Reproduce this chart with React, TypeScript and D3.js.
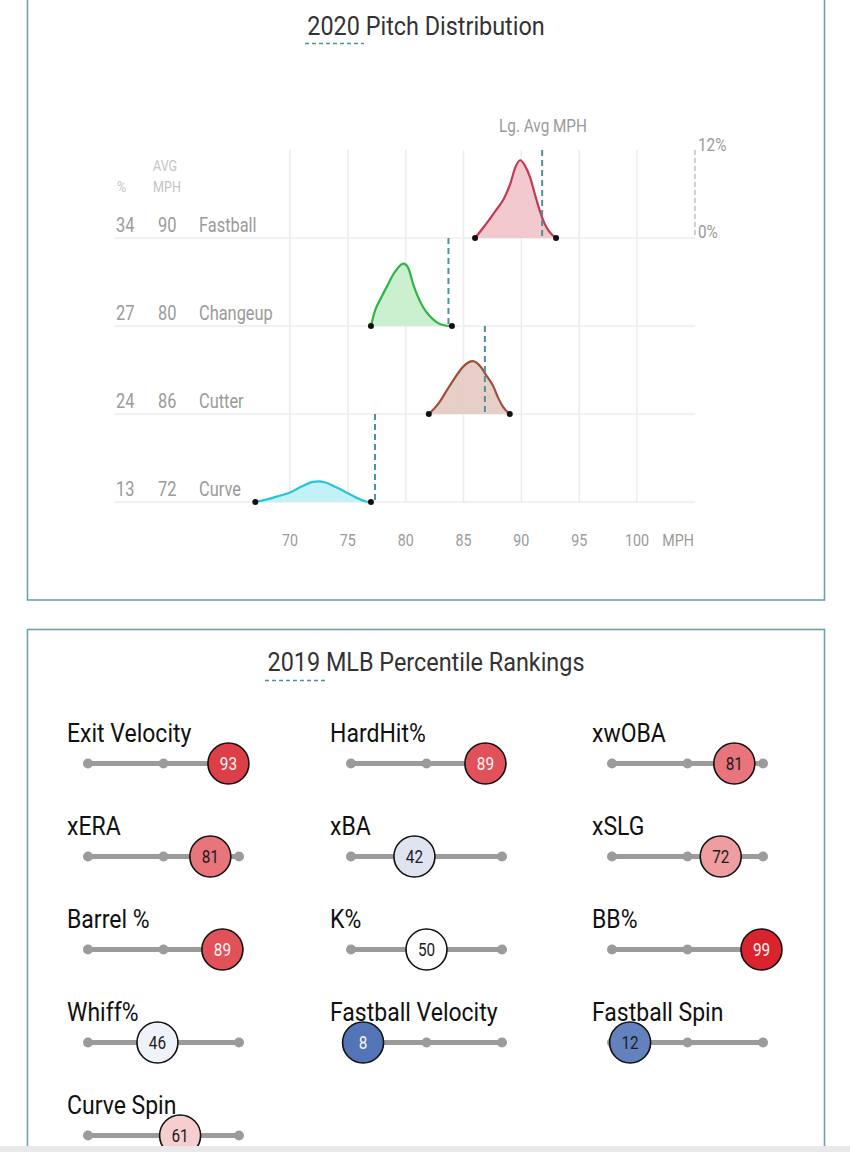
import React from 'react';
import * as d3 from 'd3';

// ---------- Pitch distribution data ----------
const pitchTypes = ['Fastball', 'Changeup', 'Cutter', 'Curve'];
const pitchUsage = [34, 27, 24, 13];
const pitchAvgMph = [90, 80, 86, 72];
const leagueAvgMph = [91.8, 83.7, 86.85, 77.35];
const mphTicks = [70, 75, 80, 85, 90, 95, 100];

const fastballDensity: [number, number][] = [
  [86, 0], [86.8, 1.6], [87.5, 3.1], [88, 4.2], [88.5, 5.4], [89, 7.2], [89.5, 9.7],
  [89.9, 10.6], [90.3, 9.9], [90.75, 8.3], [91.2, 5.8], [91.6, 3.7], [92, 2],
  [92.4, 0.9], [93, 0],
];
const changeupDensity: [number, number][] = [
  [77, 0], [77.35, 2.1], [77.8, 3.6], [78.35, 5.3], [79, 7.2], [79.8, 8.5],
  [80.2, 8.0], [80.65, 5.7], [81, 4.2], [81.5, 2.6], [82, 1.5], [82.7, 0.5],
  [83.3, 0.1], [84, 0],
];
const cutterDensity: [number, number][] = [
  [82, 0], [82.5, 0.8], [83, 1.8], [83.55, 3.2], [84.2, 4.8], [85, 6.5], [85.8, 7.2],
  [86.5, 6.4], [87, 5.2], [87.6, 3.7], [88, 2.2], [88.45, 0.9], [89, 0],
];
const curveDensity: [number, number][] = [
  [67, 0], [68, 0.35], [69, 0.8], [70, 1.3], [71, 2.1], [72, 2.75], [72.5, 2.8],
  [73, 2.7], [74, 2.0], [75, 1.2], [76, 0.4], [76.5, 0.1], [77, 0],
];
const pitchDensities = [fastballDensity, changeupDensity, cutterDensity, curveDensity];
const pitchStroke = ['#c23a50', '#2fb545', '#9c4f3a', '#28c4d9'];
const pitchFill = ['#f2c6cd', '#c7efcd', '#e5ccc4', '#bff0f6'];

// ---------- Percentile data ----------
const metricNames = [
  'Exit Velocity', 'HardHit%', 'xwOBA',
  'xERA', 'xBA', 'xSLG',
  'Barrel %', 'K%', 'BB%',
  'Whiff%', 'Fastball Velocity', 'Fastball Spin',
  'Curve Spin',
];
const metricValues = [93, 89, 81, 81, 42, 72, 89, 50, 99, 46, 8, 12, 61];

const FONT = 'Roboto, "Noto Sans", sans-serif';
const BORDER = '#6aa3a8';
const TEAL = '#4f9197';

function T(props: {
  x: number; y: number; size: number; fill: string; anchor?: string; sx?: number; children: any;
  weight?: number;
}) {
  const { x, y, size, fill, anchor = 'start', sx = 1, children, weight = 400 } = props;
  return (
    <text
      transform={`translate(${x},${y}) scale(${sx},1)`}
      fontFamily={FONT}
      fontSize={size}
      fontWeight={weight}
      fill={fill}
      textAnchor={anchor}
    >
      {children}
    </text>
  );
}

export default function App() {
  const W = 850;
  const H = 1152;

  // Top chart scales
  const x = d3.scaleLinear().domain([70, 100]).range([290, 637]);
  const band = d3.scaleBand().domain(pitchTypes).range([150, 502]).paddingInner(0);
  const bw = band.bandwidth();
  const h = d3.scaleLinear().domain([0, 12]).range([0, bw]);
  const base = (p: string) => (band(p) as number) + bw;

  // Percentile scales
  const colLabelX = [67, 330, 592];
  const colTrackX = [88, 351, 612];
  const px = d3.scaleLinear().domain([0, 100]).range([0, 151]);
  const rowY = d3.scaleLinear().domain([0, 1]).range([763.5, 856.5]);
  const color = d3
    .scaleLinear<string>()
    .domain([0, 50, 100])
    .range(['#325aa8', '#ffffff', '#d8202a'])
    .interpolate(d3.interpolateRgb);

  return (
    <svg
      width={W}
      height={H}
      style={{ position: 'absolute', left: 0, top: 0, background: '#fff' }}
    >
      <rect x={0} y={0} width={W} height={H} fill="#fff" />
      {/* ===== Top panel ===== */}
      <rect x={27.5} y={-10} width={797} height={610} fill="none" stroke={BORDER} strokeWidth={1.6} />
      <T x={426} y={35} size={26} fill="#333" anchor="middle" sx={0.9}>2020 Pitch Distribution</T>
      <line x1={305} x2={364} y1={43.5} y2={43.5} stroke={TEAL} strokeWidth={1.5} strokeDasharray="4,3" />

      {/* vertical grid */}
      {mphTicks.map((t) => (
        <line key={'g' + t} x1={x(t)} x2={x(t)} y1={150} y2={502} stroke="#ececec" strokeWidth={1.5} />
      ))}
      {/* row baselines */}
      {pitchTypes.map((p) => (
        <line key={'b' + p} x1={115} x2={695} y1={base(p)} y2={base(p)} stroke="#ececec" strokeWidth={1.5} />
      ))}
      {/* x-axis labels */}
      {mphTicks.map((t) => (
        <T key={'t' + t} x={x(t)} y={546} size={17} fill="#9a9a9a" anchor="middle" sx={0.84}>{t}</T>
      ))}
      <T x={678} y={546} size={17} fill="#9a9a9a" anchor="middle" sx={0.84}>MPH</T>

      {/* header */}
      <T x={543} y={132} size={18} fill="#9a9a9a" anchor="middle" sx={0.85}>Lg. Avg MPH</T>
      <T x={117} y={192} size={15} fill="#c4c4c4" sx={0.84}>%</T>
      <T x={153} y={171} size={15} fill="#c4c4c4" sx={0.84}>AVG</T>
      <T x={153} y={192} size={15} fill="#c4c4c4" sx={0.84}>MPH</T>

      {/* right y-scale */}
      <line x1={695} x2={695} y1={150} y2={base(pitchTypes[0])} stroke="#c0c0c0" strokeWidth={1.5} strokeDasharray="5,3" />
      <T x={698} y={151} size={18} fill="#9a9a9a" sx={0.85}>12%</T>
      <T x={698} y={238} size={18} fill="#9a9a9a" sx={0.85}>0%</T>

      {pitchTypes.map((p, i) => {
        const b = base(p);
        const data = pitchDensities[i];
        const area = d3
          .area<[number, number]>()
          .x((d) => x(d[0]))
          .y0(b)
          .y1((d) => b - h(d[1]))
          .curve(d3.curveMonotoneX);
        const line = d3
          .line<[number, number]>()
          .x((d) => x(d[0]))
          .y((d) => b - h(d[1]))
          .curve(d3.curveMonotoneX);
        const first = data[0];
        const last = data[data.length - 1];
        return (
          <g key={p}>
            <T x={116} y={b - 6} size={20} fill="#9a9a9a" sx={0.82}>{pitchUsage[i]}</T>
            <T x={158} y={b - 6} size={20} fill="#9a9a9a" sx={0.82}>{pitchAvgMph[i]}</T>
            <T x={199} y={b - 6} size={20} fill="#9a9a9a" sx={0.82}>{p}</T>
            <path d={area(data) as string} fill={pitchFill[i]} opacity={0.95} />
            <path d={line(data) as string} fill="none" stroke={pitchStroke[i]} strokeWidth={2.2} />
            <line
              x1={x(leagueAvgMph[i])}
              x2={x(leagueAvgMph[i])}
              y1={band(p) as number}
              y2={b}
              stroke={TEAL}
              strokeWidth={2}
              strokeDasharray="6,4"
            />
            <circle cx={x(first[0])} cy={b} r={3} fill="#111" />
            <circle cx={x(last[0])} cy={b} r={3} fill="#111" />
          </g>
        );
      })}

      {/* ===== Bottom panel ===== */}
      <rect x={27.5} y={629.5} width={797} height={560} fill="none" stroke={BORDER} strokeWidth={1.6} />
      <T x={426} y={671} size={26} fill="#333" anchor="middle" sx={0.9}>2019 MLB Percentile Rankings</T>
      <line x1={265} x2={325} y1={680.5} y2={680.5} stroke={TEAL} strokeWidth={1.5} strokeDasharray="4,3" />

      {metricNames.map((name, i) => {
        const col = i % 3;
        const row = Math.floor(i / 3);
        const ty = rowY(row);
        const x0 = colTrackX[col];
        const v = metricValues[i];
        const cx = x0 + px(v);
        const textFill = v >= 85 || v <= 10 ? '#fff4f4' : '#1c1c1c';
        return (
          <g key={name}>
            <T x={colLabelX[col]} y={ty - 22} size={25} fill="#111" sx={0.92}>{name}</T>
            <line x1={x0 + px(0)} x2={x0 + px(100)} y1={ty} y2={ty} stroke="#9b9b9b" strokeWidth={5} />
            {[0, 50, 100].map((m) => (
              <circle key={m} cx={x0 + px(m)} cy={ty} r={5} fill="#9b9b9b" />
            ))}
            <circle cx={cx} cy={ty} r={20.5} fill={color(v)} stroke="#111" strokeWidth={1.6} />
            <T x={cx} y={ty + 6.5} size={18} fill={textFill} anchor="middle" sx={0.85}>{v}</T>
          </g>
        );
      })}

      <rect x={0} y={1146} width={W} height={6} fill="#e9e9e9" />
    </svg>
  );
}
